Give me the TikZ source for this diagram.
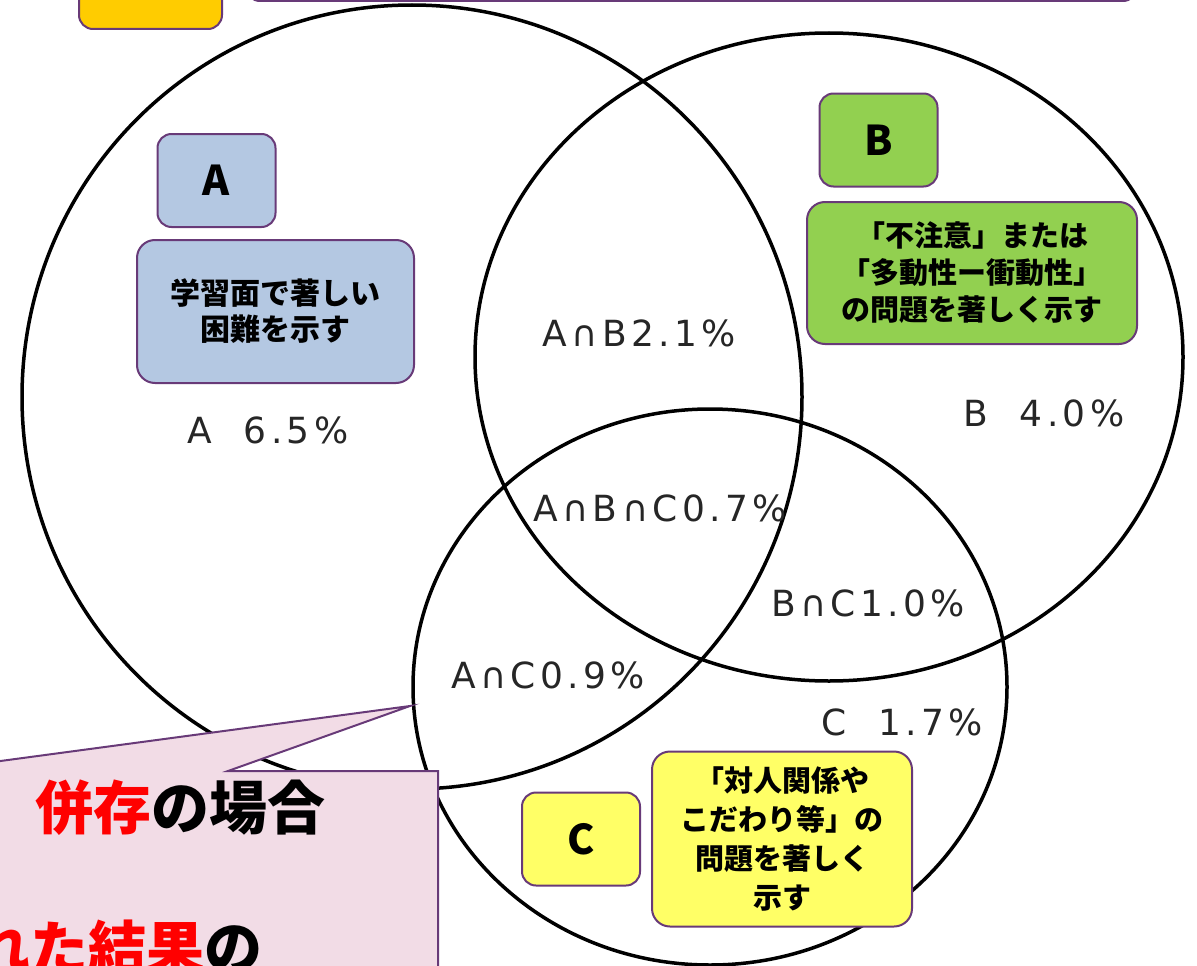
\documentclass[tikz,border=0pt]{standalone}
\usepackage{fontspec}
\usepackage{tikz}
\usetikzlibrary{positioning,shapes}
\newfontfamily\jpfont{Noto Sans CJK JP}
\newfontfamily\pctfont[LetterSpace=12]{DejaVu Sans}
\definecolor{frame}{RGB}{104,58,120}
\definecolor{fillA}{RGB}{180,200,226}
\definecolor{fillB}{RGB}{146,208,80}
\definecolor{fillC}{RGB}{255,255,102}
\definecolor{gold}{RGB}{255,204,0}
\definecolor{notefill}{RGB}{242,220,230}

\begin{document}
\begin{tikzpicture}[x=1pt,y=-1pt]
	\tikzstyle{venn} = [draw, ellipse, line width=3.5pt, inner sep=0pt]
	\tikzstyle{tag} = [draw=frame, line width=2pt, rounded corners=14pt, minimum width=118pt, minimum height=93pt, font=\jpfont\bfseries\fontsize{41}{41}\selectfont]
	\tikzstyle{desc} = [draw=frame, line width=2pt, rounded corners=18pt, align=center, font=\jpfont\bfseries\fontsize{29}{37}\selectfont]
	\tikzstyle{pct} = [text=black!85, font=\pctfont\fontsize{36}{36}\selectfont]
	\tikzstyle{notetext} = [anchor=west, inner sep=0pt, font=\jpfont\bfseries\fontsize{58}{58}\selectfont]

	\clip (0,0) rectangle (1197,966);

	% the three sets
	\node [venn, minimum width=780pt, minimum height=784pt] (setA) at (412,397) {};
	\node [venn, minimum width=708pt, minimum height=648pt] (setB) at (829,357) {};
	\node [venn, minimum width=594pt, minimum height=556pt] (setC) at (710,687) {};

	% boxes at the top, cut off
	\node [draw=frame, line width=2pt, fill=gold, rounded corners=14pt, minimum width=143pt, minimum height=88pt] (goldtag) at (150.5,-15) {};
	\node [draw=frame, line width=2pt, fill=white, rounded corners=14pt, minimum width=891pt, minimum height=82pt] (banner) at (691.5,-40) {};

	\node [tag, fill=fillA] (tagA) at (216.5,180.5) {A};
	\node [desc, fill=fillA, minimum width=277pt, minimum height=143pt, font=\jpfont\bfseries\fontsize{30}{36}\selectfont] (descA) at (275.5,311.5) {学習面で著しい\\困難を示す};
	\node [tag, fill=fillB] (tagB) at (878.5,140) {B};
	\node [desc, fill=fillB, minimum width=330pt, minimum height=142pt] (descB) at (972,273) {「不注意」または\\「多動性ー衝動性」\\の問題を著しく示す};
	\node [tag, fill=fillC] (tagC) at (581,839) {C};
	\node [desc, fill=fillC, minimum width=260pt, minimum height=175pt, font=\jpfont\bfseries\fontsize{29}{39}\selectfont, right=10pt of tagC] (descC) {「対人関係や\\こだわり等」の\\問題を著しく\\示す};

	\node [pct] (pctA) at (268,430) {A\ \ 6.5\%};
	\node [pct] (pctB) at (1044,413) {B\ \ 4.0\%};
	\node [pct] (pctC) at (902,722) {C\ \ 1.7\%};
	\node [pct] (pctAB) at (639,333) {A∩B2.1\%};
	\node [pct] (pctABC) at (660,508) {A∩B∩C0.7\%};
	\node [pct] (pctBC) at (868,603) {B∩C1.0\%};
	\node [pct] (pctAC) at (548,675) {A∩C0.9\%};

	% callout
	\coordinate (tip) at (410,706);
	\draw [draw=frame, line width=2pt, fill=notefill] (-100,1000) -- (-100,771) -- (-74,771) -- (tip) -- (228,771) -- (438,771) -- (438,1000) -- cycle;
	\node [notetext] (note1) at (35,808) {\textcolor{red}{併存}の場合};
	\node [notetext] (note2) at (-28,947) {\textcolor{red}{れた結果}の};
\end{tikzpicture}
\end{document}
